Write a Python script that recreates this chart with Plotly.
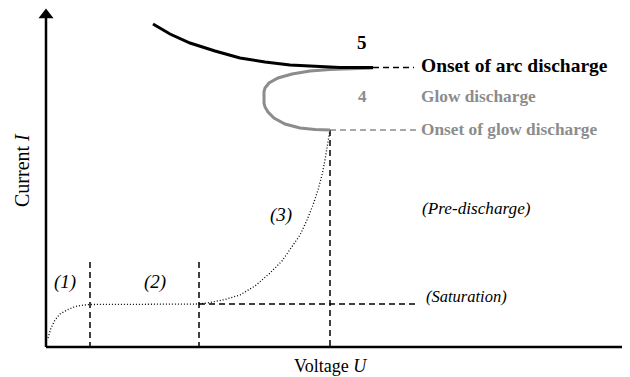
import plotly.graph_objects as go

# Schematic coordinates (canvas units, y grows downward)
# Dotted characteristic: region (1)+(2) and region (3)
pre_x = [48, 51, 55, 60, 67, 74, 80, 90, 140, 199]
pre_y = [338, 328, 320, 314, 310, 307, 305.5, 304.5, 304.3, 304]
town_x = [199, 210, 225, 240, 255, 270, 282, 290, 300, 307, 313, 318, 322, 325, 327, 328.5, 330]
town_y = [304, 302.5, 299.5, 295, 286, 273, 261, 250, 235, 220, 205, 190, 175, 160, 148, 138, 130]

# Glow discharge (gray) loop
glow_x = [330, 315, 300, 285, 274, 268, 265, 264, 264, 265, 269, 278, 292, 310, 330, 350, 373]
glow_y = [130, 129.5, 128, 124, 118, 112, 107, 103, 92, 88, 83, 78, 74, 71, 69.5, 68.5, 68]

# Arc discharge (black)
arc_x = [153, 170, 190, 215, 240, 265, 290, 315, 340, 373]
arc_y = [24, 34, 43, 51, 58, 62, 65, 66.5, 67.5, 67.5]

# Reference lines
sat_x = [199, 418]
sat_y = [304, 304]
vlines_x = [90, 199]
vline_top = 262
axis_y = 347
axis_x = 46
glow_onset_v_x = 330

labels = {
    "five": "5", "arc": "Onset of arc discharge", "four": "4",
    "glow": "Glow discharge", "glowon": "Onset of glow discharge",
    "pre": "(Pre-discharge)", "sat": "(Saturation)",
    "r1": "(1)", "r2": "(2)", "r3": "(3)",
    "ylab": "Current <i>I</i>", "xlab": "Voltage <i>U</i>",
}

FONT = "Liberation Serif, Times New Roman, serif"
GRAY = "#8c8c8c"
DASH = "6px,4px"
OFF = 8  # page body margin

fig = go.Figure()

def line(x, y, color="black", width=1.5, dash=None):
    fig.add_trace(go.Scatter(x=x, y=y, mode="lines",
                             line=dict(color=color, width=width, dash=dash),
                             hoverinfo="skip", showlegend=False))

# axes
line([axis_x, axis_x], [axis_y, 18], width=2.5)
line([axis_x, 622], [axis_y, axis_y], width=2.5)
fig.add_trace(go.Scatter(x=[axis_x], y=[15], mode="markers",
                         marker=dict(symbol="triangle-up", size=13, color="black"),
                         hoverinfo="skip", showlegend=False))
fig.add_trace(go.Scatter(x=[628], y=[axis_y], mode="markers",
                         marker=dict(symbol="triangle-right", size=13, color="black"),
                         hoverinfo="skip", showlegend=False))

# dashed guides
for vx in vlines_x:
    line([vx, vx], [vline_top, axis_y], dash=DASH)
line([glow_onset_v_x, glow_onset_v_x], [town_y[-1], axis_y], dash=DASH)
line(sat_x, sat_y, dash=DASH)
line([arc_x[-1], 414], [arc_y[-1], arc_y[-1]], dash=DASH)
line([glow_x[0], 416], [glow_y[0], glow_y[0]], color=GRAY, dash=DASH)

# dotted characteristic
line(pre_x, pre_y, width=1.3, dash="1px,2px")
line(town_x, town_y, width=1.3, dash="1px,2px")

# glow + arc
line(glow_x, glow_y, color=GRAY, width=3)
line(arc_x, arc_y, color="black", width=3)

def text(t, x, y, size, color="black", bold=False, italic=False, xanchor="center", angle=0):
    s = t
    if italic:
        s = "<i>" + s + "</i>"
    if bold:
        s = "<b>" + s + "</b>"
    fig.add_annotation(x=x, y=y, xref="x", yref="y", text=s, showarrow=False,
                       xanchor=xanchor, yanchor="middle", textangle=angle,
                       font=dict(family=FONT, size=size, color=color))

text(labels["five"], 362, 42, 19, bold=True)
text(labels["arc"], 419, 65, 19.5, bold=True, xanchor="left")
text(labels["four"], 362, 96, 17, color=GRAY, bold=True)
text(labels["glow"], 419, 96, 17.3, color=GRAY, bold=True, xanchor="left")
text(labels["glowon"], 419, 129, 17.3, color=GRAY, bold=True, xanchor="left")
text(labels["pre"], 420, 208, 17.2, italic=True, xanchor="left")
text(labels["sat"], 424, 296, 16.5, italic=True, xanchor="left")
text(labels["r1"], 65, 282, 19, italic=True)
text(labels["r2"], 155, 282, 19, italic=True)
text(labels["r3"], 281, 215, 19, italic=True)
text(labels["ylab"], 22, 170, 20, angle=-90)
text(labels["xlab"], 330, 366, 18)

fig.update_layout(
    width=630 - OFF, height=377 - OFF,
    margin=dict(l=0, r=0, t=0, b=0),
    paper_bgcolor="white", plot_bgcolor="white",
    xaxis=dict(range=[OFF, 630], visible=False, fixedrange=True),
    yaxis=dict(range=[377, OFF], visible=False, fixedrange=True),
    showlegend=False,
)

fig.write_html("out.html")
